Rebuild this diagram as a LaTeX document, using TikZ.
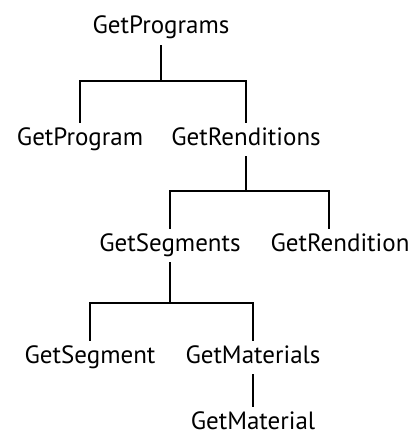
\documentclass[tikz,border=0pt]{standalone}
\usepackage{fontspec}
\setmainfont{PT Sans}
\usetikzlibrary{calc}

\tikzset{
  call/.style={anchor=base,inner xsep=0pt,inner ysep=6pt,text height=16pt,text depth=5pt,
    font=\fontsize{25}{29}\selectfont},
  tree/.style={line width=1.7pt}
}

\begin{document}
\begin{tikzpicture}[x=1pt,y=-1pt]
  \useasboundingbox (0,0) rectangle (415,436);

  \node[call] (progs) at (161,34) {GetPrograms};

  \node[call] (prog) at (80,145) {GetProgram};
  \node[call] (rends) at (246,145) {GetRenditions};

  \node[call] (segs) at (170,251) {GetSegments};
  \node[call] (rend) at (340,251) {GetRendition};

  \node[call] (seg) at (90,363) {GetSegment};
  \node[call] (mats) at (253,363) {GetMaterials};

  \node[call] (mat) at (253,429) {GetMaterial};

  % junctions of the bars
  \coordinate (b1) at (161,81);
  \coordinate (b2) at (246,191);
  \coordinate (b3) at (170,303);

  \draw[tree] (progs.south) -- (b1);
  \draw[tree] (prog.north) |- (b1) -| (rends.north);
  \draw[tree] (rends.south) -- (b2);
  \draw[tree] (segs.north) |- (b2) -| ([xshift=-11pt]rend.north);
  \draw[tree] (segs.south) -- (b3);
  \draw[tree] (seg.north) |- (b3) -| (mats.north);
  \draw[tree] (mats.south) -- (mat.north);

\end{tikzpicture}
\end{document}
